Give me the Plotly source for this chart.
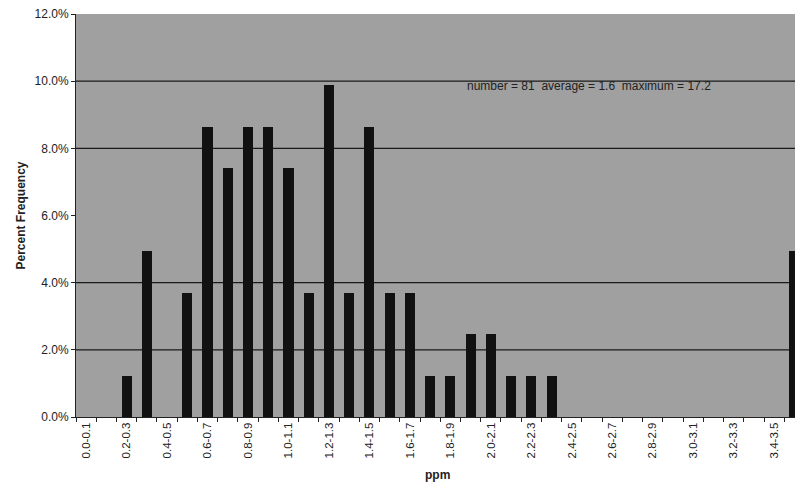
import plotly.graph_objects as go

categories = [f"{i/10:.1f}-{(i+1)/10:.1f}" for i in range(36)]
counts = [0, 0, 1, 4, 0, 3, 7, 6, 7, 7, 6, 3, 8, 3, 7, 3, 3, 1, 1, 2, 2, 1, 1, 1,
          0, 0, 0, 0, 0, 0, 0, 0, 0, 0, 0, 4]
total = 81
percent = [c / total for c in counts]
y_ticks = [0.0, 0.02, 0.04, 0.06, 0.08, 0.10, 0.12]
grid_lines = [0.02, 0.04, 0.08, 0.10]
note = "number = 81  average = 1.6  maximum = 17.2"

x_idx = list(range(len(categories)))

fig = go.Figure()
fig.add_trace(go.Bar(x=x_idx, y=percent, width=0.5, cliponaxis=True,
                     marker=dict(color="#111111", line=dict(width=0))))

for g in grid_lines:
    fig.add_hline(y=g, line=dict(color="#1a1a1a", width=1.2), layer="below")

fig.add_annotation(x=0.713, xref="paper", y=0.0985, yref="y", text=note,
                   showarrow=False, font=dict(size=12, color="#222222"),
                   xanchor="center", yanchor="middle")
fig.add_annotation(x=-0.0765, xref="paper", y=0.5, yref="paper",
                   text="<b>Percent Frequency</b>", textangle=-90,
                   showarrow=False, font=dict(size=12, color="#222222"),
                   xanchor="center", yanchor="middle")
fig.add_annotation(x=0.503, xref="paper", y=-0.145, yref="paper",
                   text="<b>ppm</b>",
                   showarrow=False, font=dict(size=12, color="#222222"),
                   xanchor="center", yanchor="middle")

fig.update_layout(
    width=795, height=482,
    margin=dict(l=76, r=0, t=14, b=65),
    paper_bgcolor="white", plot_bgcolor="#a0a0a0",
    font=dict(family="Liberation Sans, Arial, sans-serif", color="#222222", size=11),
    showlegend=False, bargap=0,
    xaxis=dict(
        range=[-0.5, 35.03], automargin=False,
        tickvals=x_idx[::2], ticktext=categories[::2],
        tickangle=-90, ticks="", showgrid=False, zeroline=False,
        showline=True, linecolor="#222222", linewidth=1,
        minor=dict(tick0=-0.5, dtick=1, ticks="outside", ticklen=4,
                   tickcolor="#222222", showgrid=False),
        tickfont=dict(size=11.5),
    ),
    yaxis=dict(
        range=[0, 0.12], tickvals=y_ticks, tickformat=".1%", automargin=False,
        ticks="outside", ticklen=4, tickcolor="#222222",
        showgrid=False, zeroline=False,
        showline=True, linecolor="#222222", linewidth=1, mirror=True,
        tickfont=dict(size=12),
    ),
)

fig.write_html("out.html", config={"displayModeBar": False},
               post_script="document.body.style.margin='0';document.body.style.padding='0';document.body.style.overflow='hidden';")
